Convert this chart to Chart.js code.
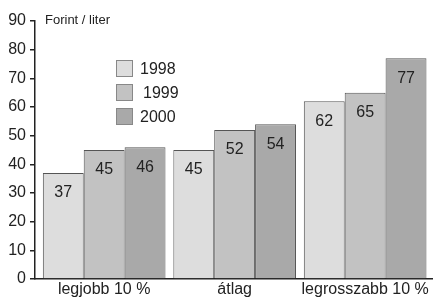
<!DOCTYPE html>
<html><head><meta charset="utf-8">
<script src="https://cdn.jsdelivr.net/npm/chart.js@4/dist/chart.umd.min.js"></script>
<style>html,body{margin:0;padding:0;background:#fff}#wrap{width:433px;height:298px}</style>
</head><body><div id="wrap"><canvas id="c"></canvas></div>
<script>
const categories = ["legjobb 10 %", "átlag", "legrosszabb 10 %"];
const years = ["1998", "1999", "2000"];
const values1998 = [37, 45, 62];
const values1999 = [45, 52, 65];
const values2000 = [46, 54, 77];
const yTicks = [0, 10, 20, 30, 40, 50, 60, 70, 80, 90];
const unitLabel = "Forint / liter";

const colors = ["#dddddd", "#c2c2c2", "#a9a9a9"];
const FONT = "'Liberation Sans', Arial, sans-serif";
const series = [values1998, values1999, values2000];

const datasets = series.map((vals, i) => ({
  label: years[i],
  data: vals.map((v, j) => ({x: j, y: v})),
  backgroundColor: colors[i],
  borderColor: "#555",
  borderWidth: 1,
  borderSkipped: "bottom",
  categoryPercentage: 0.94,
  barPercentage: 1.0
}));

const overlay = {
  id: "overlay",
  afterDatasetsDraw(chart) {
    const ctx = chart.ctx;
    ctx.save();
    ctx.font = "16px " + FONT;
    ctx.fillStyle = "#222";
    ctx.textAlign = "center";
    ctx.textBaseline = "middle";
    chart.data.datasets.forEach((ds, i) => {
      chart.getDatasetMeta(i).data.forEach((bar, j) => {
        ctx.fillText(String(ds.data[j].y), bar.x, bar.y + 20);
      });
    });
    ctx.font = "13px " + FONT;
    ctx.textAlign = "left";
    ctx.fillText(unitLabel, 45, 20);
    const boxX = 116, boxY0 = 60, step = 24, boxS = 17;
    ctx.font = "16px " + FONT;
    chart.data.datasets.forEach((ds, i) => {
      const y = boxY0 + i * step;
      ctx.fillStyle = ds.backgroundColor;
      ctx.fillRect(boxX, y, boxS, boxS);
      ctx.strokeStyle = "#888";
      ctx.lineWidth = 1;
      ctx.strokeRect(boxX + 0.5, y + 0.5, boxS - 1, boxS - 1);
      ctx.fillStyle = "#222";
      ctx.fillText(ds.label, 140 + (i === 1 ? 3 : 0), y + boxS / 2 + 1);
    });
    ctx.restore();
  }
};

new Chart(document.getElementById("c"), {
  type: "bar",
  data: { datasets },
  options: {
    responsive: true,
    maintainAspectRatio: false,
    animation: false,
    layout: { padding: { top: 21, right: 0, left: 0, bottom: 0 } },
    plugins: { legend: { display: false }, tooltip: { enabled: false } },
    scales: {
      x: {
        type: "linear",
        min: -0.53,
        max: 2.52,
        offset: false,
        afterBuildTicks(scale) { scale.ticks = categories.map((c, i) => ({ value: i })); },
        ticks: {
          autoSkip: false,
          maxRotation: 0,
          color: "#222",
          font: { family: FONT, size: 16 },
          padding: 1,
          callback: (v) => categories[v]
        },
        grid: { display: false, drawTicks: false },
        border: { display: true, color: "#222", width: 1.5 },
        afterFit(scale) { scale.height = 19; }
      },
      y: {
        min: 0,
        max: 90,
        afterBuildTicks(scale) { scale.ticks = yTicks.map(v => ({ value: v })); },
        ticks: {
          color: "#222",
          font: { family: FONT, size: 16 },
          padding: 4
        },
        grid: { drawOnChartArea: false, drawTicks: true, tickLength: 5, color: "#222", lineWidth: 1.5 },
        border: { display: true, color: "#222", width: 1.5 },
        afterFit(scale) { scale.width = 35; }
      }
    }
  },
  plugins: [overlay]
});
</script>
</body></html>
